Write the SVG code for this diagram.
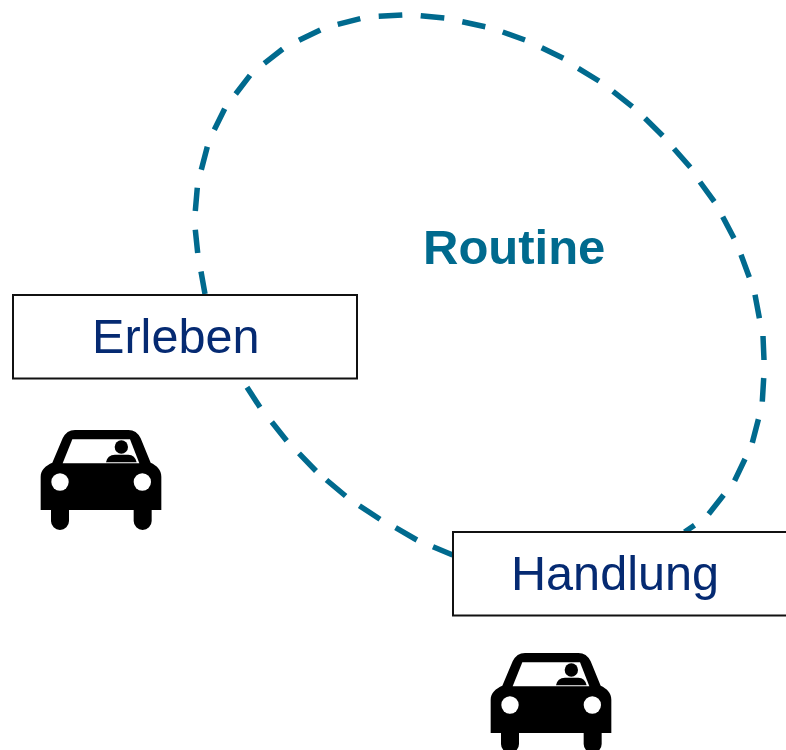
<svg xmlns="http://www.w3.org/2000/svg" width="786" height="750" viewBox="0 0 786 750">
<style>
.box{fill:#fff;stroke:#111;stroke-width:2}
.lbl{font-family:"Liberation Sans",Arial,sans-serif;font-size:48.600px;fill:#052a72}
.routine{font-family:"Liberation Sans",Arial,sans-serif;font-size:49px;font-weight:bold;fill:#006a8e}
.dash{fill:none;stroke:#006a8e;stroke-width:5.500}
</style>
<defs>
<g id="car" transform="translate(20 420) scale(.33333)">
<path d="M62 270V170C62 150 78 136 97 128L128 55Q140 30 165 30H325Q350 30 362 55L392 128C410 136 424 150 424 170V270H395V303A27 27 0 0 1 341 303V270H147V303A27 27 0 0 1 93 303V270Z" fill="#000"/>
<path d="M128 130L157 58H330L358 130Z" fill="#fff"/>
<circle cx="304" cy="81" r="20" fill="#000"/>
<path d="M258 127Q262 104 285 104H325Q345 104 350 127Z" fill="#000"/>
<circle cx="120" cy="186" r="26" fill="#fff"/>
<circle cx="367" cy="186" r="26" fill="#fff"/>
</g>
</defs>
<rect width="786" height="750" fill="#fff"/>
<g id="connectors">
<path class="dash" d="M205 294L201 271.500M197.700 253L195.300 229.700M195.300 211L197.300 187.700M201.300 169.700L207.300 146.700M214.300 129.700L224.700 108.700M235.700 94L250 75.300M264.300 63.300L282.700 49M299 40.300L320.300 30M337.700 24.300L360.300 18.700M378.700 16.300L402.300 15M420.700 15.700L444.300 18M462.300 21.700L485.300 26.700M502.700 32L525 40M541.700 47.700L563.300 58.300M578.300 68.300L599 81M613 91.300L632.300 106.700M645 118.300L662.700 135.700M674 148.700L690.300 167.300M700 182L714.300 201.700M722.700 216.700L734 238.300M741 254.700L749.300 277.300M755 294.700L759.400 318.300M763 336L764 360M763.700 378L762.300 401.700M758.400 419.300L752.300 442.700M745 459L734.600 480.700M723.600 495L708.700 514M694.500 525.300L684.600 532M247 387.300L260 407.300M271.800 422L286.700 440.700M299 453.300L316 471M326.500 480L345.600 496M359.400 505.700L380 519.300M395.600 527.700L416.900 540M433 546.700L452.700 555"/>
</g>
<g id="routine"><text class="routine" x="423" y="264">Routine</text></g>
<g id="erleben">
<rect class="box" x="13" y="295" width="344" height="83.500"/>
<text class="lbl" x="92" y="353">Erleben</text>
</g>
<g id="handlung">
<rect class="box" x="453" y="532" width="340" height="83.500"/>
<text class="lbl" x="511" y="590">Handlung</text>
</g>
<g id="car-erleben"><use href="#car"/></g>
<g id="car-handlung"><use href="#car" transform="translate(450 223)"/></g>
</svg>
